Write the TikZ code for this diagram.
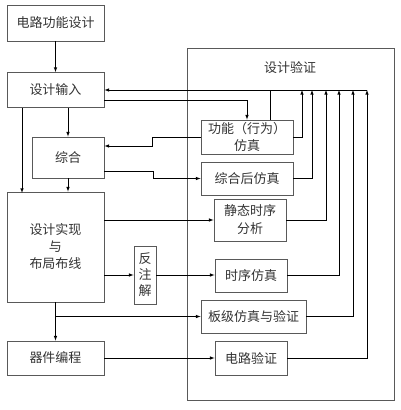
\documentclass[tikz,border=0pt]{standalone}
\usepackage{fontspec}
\newfontfamily\cjk{Noto Sans CJK SC}
\usepackage{tikz}
\usetikzlibrary{calc, positioning}

\begin{document}
\begin{tikzpicture}[>=latex, x=1pt, y=-1pt,
    kuang/.style={draw=black!65, line width=0.9pt, inner sep=0pt, align=center,
        text=black!80, font=\cjk\fontsize{13}{17}\selectfont},
    xian/.style={line width=0.6pt}]
    \useasboundingbox (0,0) rectangle (400,410);

    % 设计验证大框
    \node[draw=black!65, line width=0.9pt, minimum width=207pt, minimum height=352pt] (yz) at (290.5,224) {};
    \node[text=black!80, font=\cjk\fontsize{13}{17}\selectfont] (yzt) at (290,68) {设计验证};

    % 左侧流程
    \node[kuang, minimum width=97pt, minimum height=36pt] (gn) at (55.5,23) {电路功能设计};
    \node[kuang, minimum width=97pt, minimum height=35pt] (sr) at (55.5,90) {设计输入};
    \node[kuang, minimum width=72pt, minimum height=41pt] (zh) at (68,157.5) {综合};
    \node[kuang, minimum width=97pt, minimum height=110pt] (sx) at (55.5,247) {设计实现\\与\\布局布线};
    \node[kuang, minimum width=22pt, minimum height=58pt, font=\cjk\fontsize{13}{16}\selectfont] (fz) at (145,275) {反\\注\\解};
    \node[kuang, minimum width=97pt, minimum height=34pt] (bc) at (55.5,358) {器件编程};

    % 验证各项
    \node[kuang, minimum width=92pt, minimum height=34pt] (fs) at (247,137) {功能（行为）\\仿真};
    \node[kuang, minimum width=92pt, minimum height=33pt] (zs) at (247,178.5) {综合后仿真};
    \node[kuang, minimum width=72pt, minimum height=42pt, font=\cjk\fontsize{13}{18}\selectfont] (jt) at (250,220) {静态时序\\分析};
    \node[kuang, minimum width=72pt, minimum height=33pt] (sf) at (251,275.5) {时序仿真};
    \node[kuang, minimum width=105pt, minimum height=33pt] (bj) at (253.5,316.5) {板级仿真与验证};
    \node[kuang, minimum width=72pt, minimum height=34pt] (dl) at (251,358) {电路验证};

    % 反馈总线
    \foreach \n/\x in {1/302, 2/312, 3/326, 4/339, 5/353, 6/367}
        \coordinate (r\n) at (\x,90);

    % 正向连线
    \draw[xian, ->] (gn) -- (sr);
    \draw[xian, ->] (sr.south -| zh) -- (zh.north);
    \draw[xian, ->] ([xshift=-33.5pt]sr.south) -- ++(0,85);
    \draw[xian, ->] (zh.south) -- (zh.south |- sx.north);
    \draw[xian, ->] ([yshift=-10pt]sr.east) -| (fs.north);
    \draw[xian, ->] (fs.west) -- ++(-48,0) |- ([yshift=11.5pt]zh.east);
    \draw[xian, ->] ([yshift=-13.5pt]zh.east) -- ++(49,0) |- (zs.west);
    \draw[xian, ->] (sx.east |- jt.west) -- (jt.west);
    \draw[xian, ->] (sx.east |- fz.west) -- (fz.west);
    \draw[xian, ->] (fz.east) -- (fz.east -| sf.west);
    \draw[xian, ->] (sx.south) -- (bc.north);
    \draw[xian, ->] (sx.south |- bj.west) -- (bj.west);
    \draw[xian, ->] (bc.east) -- (dl.west);

    % 回到设计输入
    \draw[xian, ->] (r6) -- (sr.east);
    \draw[xian] ([xshift=23pt]fs.north) -- ++(0,-30);
    \draw[xian, ->] (fs.east) -| (r1);
    \draw[xian, ->] (zs.east) -| (r2);
    \draw[xian, ->] (jt.east) -| (r3);
    \draw[xian, ->] (sf.east) -| (r4);
    \draw[xian, ->] (bj.east) -| (r5);
    \draw[xian, ->] (dl.east) -| (r6);
\end{tikzpicture}
\end{document}
